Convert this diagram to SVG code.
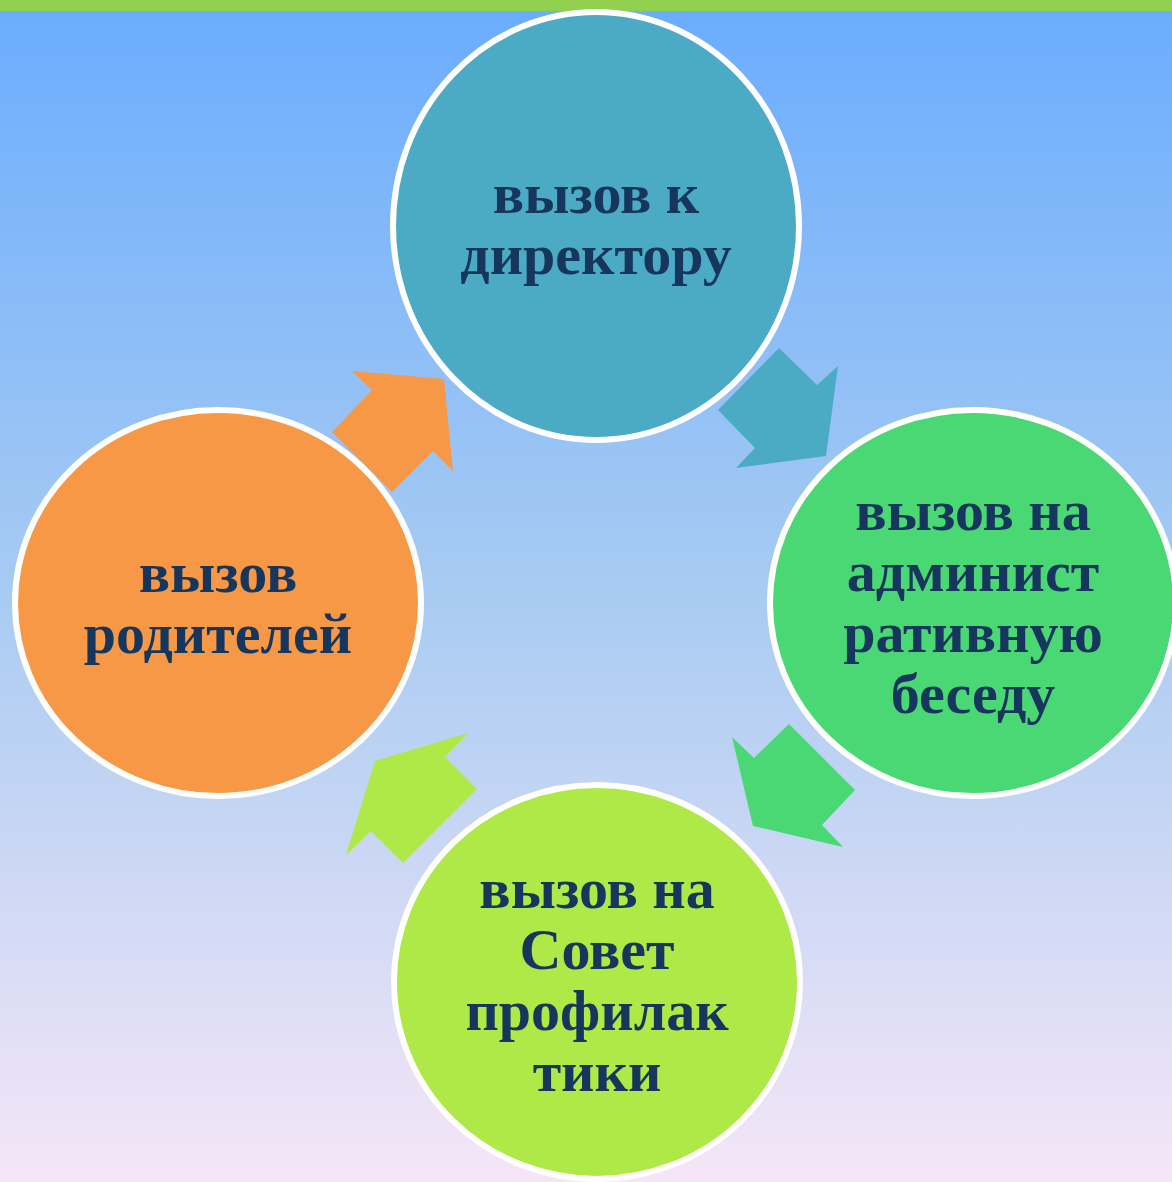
<svg xmlns="http://www.w3.org/2000/svg" width="1172" height="1182" viewBox="0 0 1172 1182">
<defs>
<linearGradient id="bg" x1="0" y1="0" x2="0" y2="1">
<stop offset="0" stop-color="#6AACFE"/>
<stop offset="0.5" stop-color="#A8CBF2"/>
<stop offset="1" stop-color="#F5E6F7"/>
</linearGradient>
<style>
.node{stroke:#FFFFFF;stroke-width:6}
.lbl{font-family:"Liberation Serif","Times New Roman",serif;font-weight:bold;font-size:58px;fill:#17365D;text-anchor:middle}
</style>
</defs>
<rect x="0" y="0" width="1172" height="1182" fill="url(#bg)"/>
<rect x="0" y="0" width="1172" height="11" fill="#92D050"/>
<g id="connectors">
<polygon points="718,410 779,348 817,385 838,366 826,456 736,468 755,448" fill="#4BABC5"/>
<polygon points="732,737 754,758 789,724 855,790 822,825 843,847 753,826" fill="#4AD874"/>
<polygon points="468,733 445,757 477,789 403,863 371,831 346,855 375,761" fill="#AEE948"/>
<polygon points="352,371 372,390 332,432 392,492 433,451 453,471 444,379" fill="#F79847"/>
</g>
<g id="node-director">
<ellipse class="node" cx="596" cy="226" rx="203" ry="214" fill="#4BABC5"/>
<text class="lbl" x="596" y="213">вызов к</text>
<text class="lbl" x="596" y="274">директору</text>
</g>
<g id="node-admin">
<ellipse class="node" cx="973" cy="603" rx="203" ry="193" fill="#4AD874"/>
<text class="lbl" x="973" y="530">вызов на</text>
<text class="lbl" x="973" y="591">админист</text>
<text class="lbl" x="973" y="652">ративную</text>
<text class="lbl" x="973" y="713">беседу</text>
</g>
<g id="node-council">
<ellipse class="node" cx="597" cy="982" rx="203" ry="197" fill="#AEE948"/>
<text class="lbl" x="597" y="908">вызов на</text>
<text class="lbl" x="597" y="969">Совет</text>
<text class="lbl" x="597" y="1030">профилак</text>
<text class="lbl" x="597" y="1091">тики</text>
</g>
<g id="node-parents">
<ellipse class="node" cx="218" cy="603" rx="203" ry="193" fill="#F79847"/>
<text class="lbl" x="218" y="592">вызов</text>
<text class="lbl" x="218" y="653">родителей</text>
</g>
</svg>
